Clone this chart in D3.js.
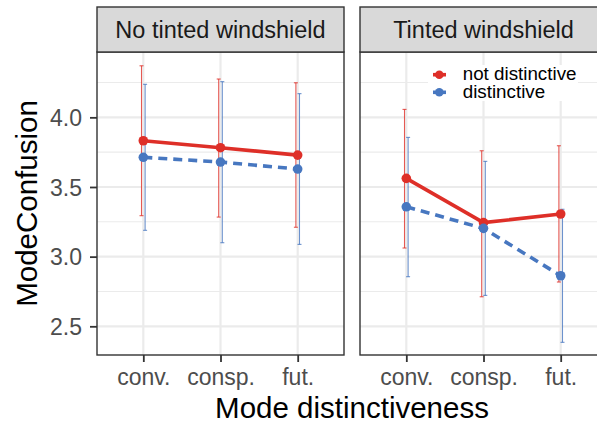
<!DOCTYPE html>
<html>
<head>
<meta charset="utf-8">
<script src="https://cdn.jsdelivr.net/npm/d3@7"></script>
<style>
    body { margin: 0; background: #fff; }
    text { font-family: "Liberation Sans", Arial, sans-serif; }
</style>
</head>
<body>
<div id="chart"></div>
<script>
(function(d3) {
    'use strict';

    var facets = ['No tinted windshield', 'Tinted windshield'];
    var categories = ['conv.', 'consp.', 'fut.'];
    var series = ['not distinctive', 'distinctive'];

    // one inner array per facet
    var notDistinctiveMean = [[3.832, 3.782, 3.729], [3.562, 3.244, 3.306]];
    var notDistinctiveLower = [[3.294, 3.284, 3.211], [3.062, 2.712, 2.818]];
    var notDistinctiveUpper = [[4.370, 4.275, 4.248], [4.057, 3.760, 3.796]];
    var distinctiveMean = [[3.713, 3.679, 3.629], [3.358, 3.203, 2.863]];
    var distinctiveLower = [[3.189, 3.100, 3.088], [2.856, 2.722, 2.385]];
    var distinctiveUpper = [[4.237, 4.256, 4.170], [3.856, 3.684, 3.340]];

    var yTicks = [2.5, 3.0, 3.5, 4.0];
    var yMinorTicks = [2.75, 3.25, 3.75, 4.25];

    var width = 597,
        height = 426;

    var panelLeft = [97, 360],
        panelWidth = 247,
        panelTop = 52,
        panelBottom = 355,
        stripTop = 7;

    var colors = ['#DE2F28', '#4777C0'];
    var dodge = [-1.8, 1.8];

    var x = d3.scalePoint()
        .domain(categories)
        .range([0, panelWidth])
        .padding(0.6);

    var y = d3.scaleLinear()
        .domain([2.294, 4.469])
        .range([panelBottom, panelTop]);

    var line = d3.line()
        .x(function(d) { return x(d.cat); })
        .y(function(d) { return y(d.mean); });

    var svg = d3.select('#chart').append('svg')
        .attr('width', width)
        .attr('height', height);

    svg.append('rect')
        .attr('width', width)
        .attr('height', height)
        .attr('fill', '#fff');

    function seriesData(f) {
        var means = [notDistinctiveMean[f], distinctiveMean[f]];
        var lows = [notDistinctiveLower[f], distinctiveLower[f]];
        var highs = [notDistinctiveUpper[f], distinctiveUpper[f]];
        return series.map(function(s, i) {
            return {
                name: s,
                index: i,
                values: categories.map(function(c, j) {
                    return { cat: c, mean: means[i][j], low: lows[i][j], high: highs[i][j] };
                })
            };
        });
    }

    facets.forEach(function(name, f) {
        var g = svg.append('g')
            .attr('transform', 'translate(' + panelLeft[f] + ',0)');

        // grid
        g.selectAll('.minor')
            .data(yMinorTicks)
            .enter()
            .append('line')
            .attr('x1', 0)
            .attr('x2', panelWidth)
            .attr('y1', y)
            .attr('y2', y)
            .attr('stroke', '#EBEBEB')
            .attr('stroke-width', 1.1);

        g.selectAll('.major')
            .data(yTicks)
            .enter()
            .append('line')
            .attr('x1', 0)
            .attr('x2', panelWidth)
            .attr('y1', y)
            .attr('y2', y)
            .attr('stroke', '#EBEBEB')
            .attr('stroke-width', 2.2);

        g.selectAll('.vgrid')
            .data(categories)
            .enter()
            .append('line')
            .attr('x1', x)
            .attr('x2', x)
            .attr('y1', panelTop)
            .attr('y2', panelBottom)
            .attr('stroke', '#EBEBEB')
            .attr('stroke-width', 2.2);

        var data = seriesData(f);

        // error bars
        data.forEach(function(s) {
            var eb = g.append('g')
                .attr('stroke', colors[s.index])
                .attr('stroke-opacity', 0.8)
                .attr('stroke-width', 1.1);

            s.values.forEach(function(d) {
                var cx = x(d.cat) + dodge[s.index];
                eb.append('line')
                    .attr('x1', cx).attr('x2', cx)
                    .attr('y1', y(d.low)).attr('y2', y(d.high));
                eb.append('line')
                    .attr('x1', cx - 2).attr('x2', cx + 2)
                    .attr('y1', y(d.low)).attr('y2', y(d.low));
                eb.append('line')
                    .attr('x1', cx - 2).attr('x2', cx + 2)
                    .attr('y1', y(d.high)).attr('y2', y(d.high));
            });
        });

        data.forEach(function(s) {
            g.append('path')
                .datum(s.values)
                .attr('d', line)
                .attr('fill', 'none')
                .attr('stroke', colors[s.index])
                .attr('stroke-width', 3.6)
                .attr('stroke-dasharray', s.index === 1 ? '9,6' : null);
        });

        data.forEach(function(s) {
            g.selectAll('.pt' + s.index)
                .data(s.values)
                .enter()
                .append('circle')
                .attr('cx', function(d) { return x(d.cat); })
                .attr('cy', function(d) { return y(d.mean); })
                .attr('r', 4.8)
                .attr('fill', colors[s.index]);
        });

        // panel border
        g.append('rect')
            .attr('x', 0)
            .attr('y', panelTop)
            .attr('width', panelWidth)
            .attr('height', panelBottom - panelTop)
            .attr('fill', 'none')
            .attr('stroke', '#333')
            .attr('stroke-width', 1.4);

        // strip
        g.append('rect')
            .attr('x', 0)
            .attr('y', stripTop)
            .attr('width', panelWidth)
            .attr('height', panelTop - stripTop)
            .attr('fill', '#D9D9D9')
            .attr('stroke', '#333')
            .attr('stroke-width', 1.4);

        g.append('text')
            .attr('x', panelWidth / 2)
            .attr('y', 37.7)
            .attr('text-anchor', 'middle')
            .attr('font-size', 23.5)
            .attr('fill', '#1A1A1A')
            .text(name);

        // x axis
        var xAxis = g.append('g')
            .attr('transform', 'translate(0,' + panelBottom + ')')
            .call(d3.axisBottom(x).tickSize(7).tickPadding(7));
        xAxis.select('.domain').remove();
        xAxis.selectAll('.tick line')
            .attr('stroke', '#333')
            .attr('stroke-width', 1.8);
        xAxis.selectAll('.tick text')
            .attr('font-size', 23)
            .attr('font-family', '"Liberation Sans", Arial, sans-serif')
            .attr('fill', '#4D4D4D');
    });

    // y axis on first panel only
    var yAxis = svg.append('g')
        .attr('transform', 'translate(' + panelLeft[0] + ',0)')
        .call(d3.axisLeft(y).tickValues(yTicks).tickFormat(d3.format('.1f')).tickSize(7).tickPadding(8));
    yAxis.select('.domain').remove();
    yAxis.selectAll('.tick line')
        .attr('stroke', '#333')
        .attr('stroke-width', 1.8);
    yAxis.selectAll('.tick text')
        .attr('font-size', 23)
        .attr('font-family', '"Liberation Sans", Arial, sans-serif')
        .attr('fill', '#4D4D4D')
        .attr('dy', '0.36em');

    // axis titles
    svg.append('text')
        .attr('x', 352)
        .attr('y', 418)
        .attr('text-anchor', 'middle')
        .attr('font-size', 29.5)
        .attr('fill', '#000')
        .text('Mode distinctiveness');

    svg.append('text')
        .attr('transform', 'translate(37,' + (panelTop + panelBottom) / 2 + ') rotate(-90)')
        .attr('text-anchor', 'middle')
        .attr('font-size', 29.5)
        .attr('fill', '#000')
        .text('ModeConfusion');

    // legend inside second panel
    var legend = svg.append('g')
        .attr('transform', 'translate(428,65)');

    legend.append('rect')
        .attr('width', 150)
        .attr('height', 36)
        .attr('fill', '#fff');

    var item = legend.selectAll('.legend')
        .data(series)
        .enter()
        .append('g')
        .attr('class', 'legend')
        .attr('transform', function(d, i) {
            return 'translate(0,' + (9.7 + i * 17.6) + ')';
        });

    item.append('line')
        .attr('x1', 5)
        .attr('x2', 18)
        .attr('stroke', function(d, i) { return colors[i]; })
        .attr('stroke-width', 3.6);

    item.append('circle')
        .attr('cx', 11.3)
        .attr('r', 4.3)
        .attr('fill', function(d, i) { return colors[i]; });

    item.append('text')
        .attr('x', 34.7)
        .attr('y', 5.5)
        .attr('font-size', 18.8)
        .attr('fill', '#000')
        .text(function(d) { return d; });

})(window.d3);
</script>
</body>
</html>
